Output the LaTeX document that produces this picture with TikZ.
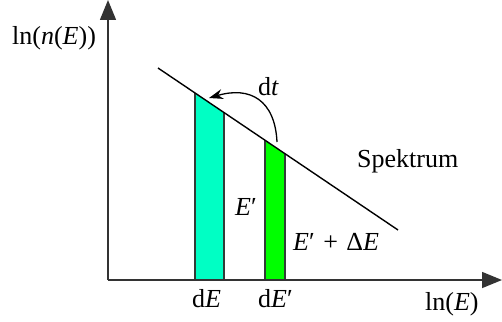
\documentclass[tikz,border=0pt]{standalone}
\usepackage{fontspec}
\setmainfont{Liberation Serif}
\usetikzlibrary{arrows.meta}
\definecolor{barcyan}{RGB}{0,255,196}
\definecolor{bargreen}{RGB}{0,255,0}
\definecolor{edgegray}{RGB}{50,60,55}
\tikzset{
  axis/.style={line width=1.5pt, draw=black!80, -{Triangle[length=20pt,width=16pt]}},
  spec/.style={line width=1.4pt, draw=black},
  baredge/.style={line width=2pt, draw=edgegray},
  lbl/.style={inner sep=0pt, anchor=base west, font=\fontsize{26}{30}\selectfont},
  dtarc/.style={line width=1.3pt, -{Stealth[length=14pt,width=10pt]}}
}
\begin{document}
\begin{tikzpicture}[x=1pt,y=-1pt]
\useasboundingbox (0,0) rectangle (502,321);
% coordinates
\coordinate (O) at (108,280);
\coordinate (ytop) at (108,0);
\coordinate (xend) at (502,280);
\coordinate (S1) at (158,68);
\coordinate (S2) at (398,230);
\coordinate (c1b) at (195,280);
\coordinate (c1t) at (195,93);
\coordinate (c2t) at (224,112.6);
\coordinate (c2b) at (224,280);
\coordinate (g1b) at (265,280);
\coordinate (g1t) at (265,140.2);
\coordinate (g2t) at (285,153.7);
\coordinate (g2b) at (285,280);
\coordinate (arcS) at (277,142);
\coordinate (arcE) at (209,98);
% bars
\fill[barcyan] (c1b) -- (c1t) -- (c2t) -- (c2b) -- cycle;
\fill[bargreen] (g1b) -- (g1t) -- (g2t) -- (g2b) -- cycle;
\draw[baredge] (c1b) -- (c1t);
\draw[baredge] (c2b) -- (c2t);
\draw[baredge] (g1b) -- (g1t);
\draw[baredge] (g2b) -- (g2t);
% spectrum line
\draw[spec] (S1) -- (S2);
% axes
\draw[axis] (O) -- (ytop);
\draw[axis] (O) -- (xend);
% dt arc
\draw[dtarc] (arcS) .. controls (275,100) and (250,86) .. (arcE);
% labels
\node[lbl] (ylab) at (12,45) {ln(\textit{n}(\textit{E}))};
\node[lbl] (dt) at (258,95) {d\textit{t}};
\node[lbl] (spek) at (357,167) {Spektrum};
\node[lbl] (Ep) at (235,215) {\textit{E}′};
\node[lbl] (EpdE) at (293,250) {\textit{E}′\kern2pt{} + \kern2pt Δ\textit{E}};
\node[lbl] (dE) at (192,307) {d\textit{E}};
\node[lbl] (dEp) at (258,307) {d\textit{E}′};
\node[lbl] (xlab) at (425,310) {ln(\textit{E})};
\end{tikzpicture}
\end{document}
